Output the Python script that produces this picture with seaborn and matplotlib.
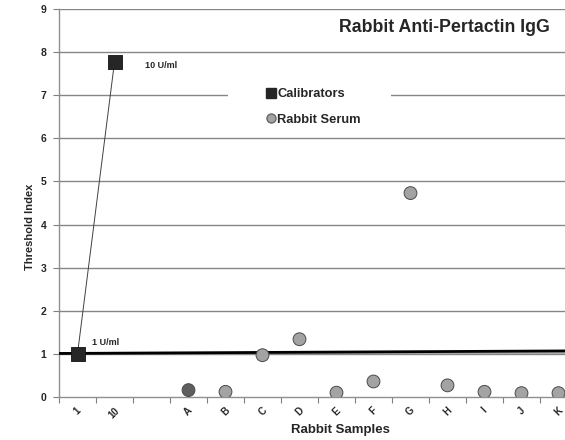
import matplotlib
matplotlib.use("Agg")
import matplotlib.pyplot as plt
import seaborn as sns
import pandas as pd
from matplotlib.lines import Line2D
from matplotlib.patches import Rectangle

# ---- data ----
slot_labels = ["1", "10", "", "A", "B", "C", "D", "E", "F", "G", "H", "I", "J", "K"]
calib_labels = ["1", "10"]
calib_values = [1.0, 7.77]
calib_text = ["1 U/ml", "10 U/ml"]
serum_labels = ["A", "B", "C", "D", "E", "F", "G", "H", "I", "J", "K"]
serum_values = [0.16, 0.12, 0.97, 1.34, 0.10, 0.36, 4.73, 0.27, 0.12, 0.09, 0.09]
threshold_ends = [1.01, 1.07]
threshold_ends_grey = [1.01, 1.02]
y_ticks = [0, 1, 2, 3, 4, 5, 6, 7, 8, 9]

sns.set_style("white")
plt.rcParams["font.family"] = ["Liberation Sans", "DejaVu Sans"]

W, H = 565, 440
pos = {lab: i for i, lab in enumerate(slot_labels) if lab}
calib = pd.DataFrame({"x": [pos[l] for l in calib_labels], "y": calib_values})
serum = pd.DataFrame({"x": [pos[l] for l in serum_labels], "y": serum_values,
                      "shade": ["dark"] + ["light"] * (len(serum_labels) - 1)})

fig = plt.figure(figsize=(W / 100, H / 100), dpi=100)
ax_l, ax_b, ax_w, ax_h = 59, 43, 518, 388
ax = fig.add_axes([ax_l / W, ax_b / H, ax_w / W, ax_h / H])

def ax_x(px):
    return (px - ax_l) / ax_w

def ax_y(py_top):
    return (H - py_top - ax_b) / ax_h

n = len(slot_labels)
ax.set_xlim(-0.5, n - 0.5)
ax.set_ylim(0, 9)

# gridlines
for yv in y_ticks[1:]:
    ax.axhline(yv, color="#868686", lw=1.0, zorder=1)

# threshold lines
ax.plot([-0.5, n - 0.5], threshold_ends_grey, color="#a8a8a8", lw=1.3, zorder=2)
ax.plot([-0.5, n - 0.5], threshold_ends, color="black", lw=2.0, zorder=3)

# legend background box (breaks the gridline like the original)
ax.add_patch(Rectangle((ax_x(228), ax_y(132)), ax_x(391) - ax_x(228), ax_y(82) - ax_y(132),
                       transform=ax.transAxes, facecolor="white", edgecolor="none", zorder=1.5))

# calibrators
sns.lineplot(data=calib, x="x", y="y", ax=ax, color="#404040", lw=0.7, zorder=4, legend=False)
sns.scatterplot(data=calib, x="x", y="y", ax=ax, marker="s", s=110, color="#262626",
                edgecolor="#111111", linewidth=0.6, zorder=5, legend=False)
label_offsets = [(0.38, 0.15, "bottom"), (0.82, -0.08, "center")]
for xv, yv, t, (dx, dy, va) in zip(calib["x"], calib["y"], calib_text, label_offsets):
    ax.text(xv + dx, yv + dy, t, fontsize=6.5, fontweight="bold", va=va, ha="left", zorder=6)

# serum
sns.scatterplot(data=serum, x="x", y="y", hue="shade", palette={"dark": "#5e5e5e", "light": "#a3a3a3"},
                ax=ax, s=85, edgecolor="#4a4a4a", linewidth=0.7, zorder=5, legend=False)

# axes styling
ax.set_xticks([i - 0.5 for i in range(n + 1)])
ax.set_xticklabels([])
ax.set_xticks(range(n), minor=True)
ax.set_xticklabels(slot_labels, minor=True, rotation=45, ha="center", fontsize=7, fontweight="bold")
ax.tick_params(axis="x", which="major", length=4, color="#808080", direction="out", bottom=True)
ax.tick_params(axis="x", which="minor", length=0, pad=6)
ax.set_yticks(y_ticks)
ax.set_yticklabels([str(v) for v in y_ticks], fontsize=7.5, fontweight="bold")
ax.tick_params(axis="y", length=4, color="#808080", direction="out", left=True, pad=5)

for side in ["top", "right"]:
    ax.spines[side].set_visible(False)
for side in ["left", "bottom"]:
    ax.spines[side].set_color("#909090")
    ax.spines[side].set_linewidth(1.0)

ax.set_xlabel("Rabbit Samples", fontsize=9.5, fontweight="bold")
ax.xaxis.set_label_coords(ax_x(340), ax_y(430))
ax.xaxis.label.set_va("center")
ax.set_ylabel("Threshold Index", fontsize=8, fontweight="bold")
ax.yaxis.set_label_coords(ax_x(30), ax_y(227))
ax.yaxis.label.set_va("center")

fig.text(550 / W, 1 - 27 / H, "Rabbit Anti-Pertactin IgG", fontsize=12.8, fontweight="bold",
         ha="right", va="center")

handles = [Line2D([], [], marker="s", ls="", color="#262626", markersize=6.5),
           Line2D([], [], marker="o", ls="", color="#a3a3a3", markeredgecolor="#666666", markersize=6.5)]
leg = ax.legend(handles, ["Calibrators", "Rabbit Serum"], loc="center left",
                bbox_to_anchor=(ax_x(258), ax_y(107)),
                frameon=False, prop={"weight": "bold", "size": 9.3},
                handletextpad=0.0, handlelength=1.0, labelspacing=1.05, borderpad=0.0)
leg.set_zorder(7)

fig.savefig("out.png", dpi=100)
